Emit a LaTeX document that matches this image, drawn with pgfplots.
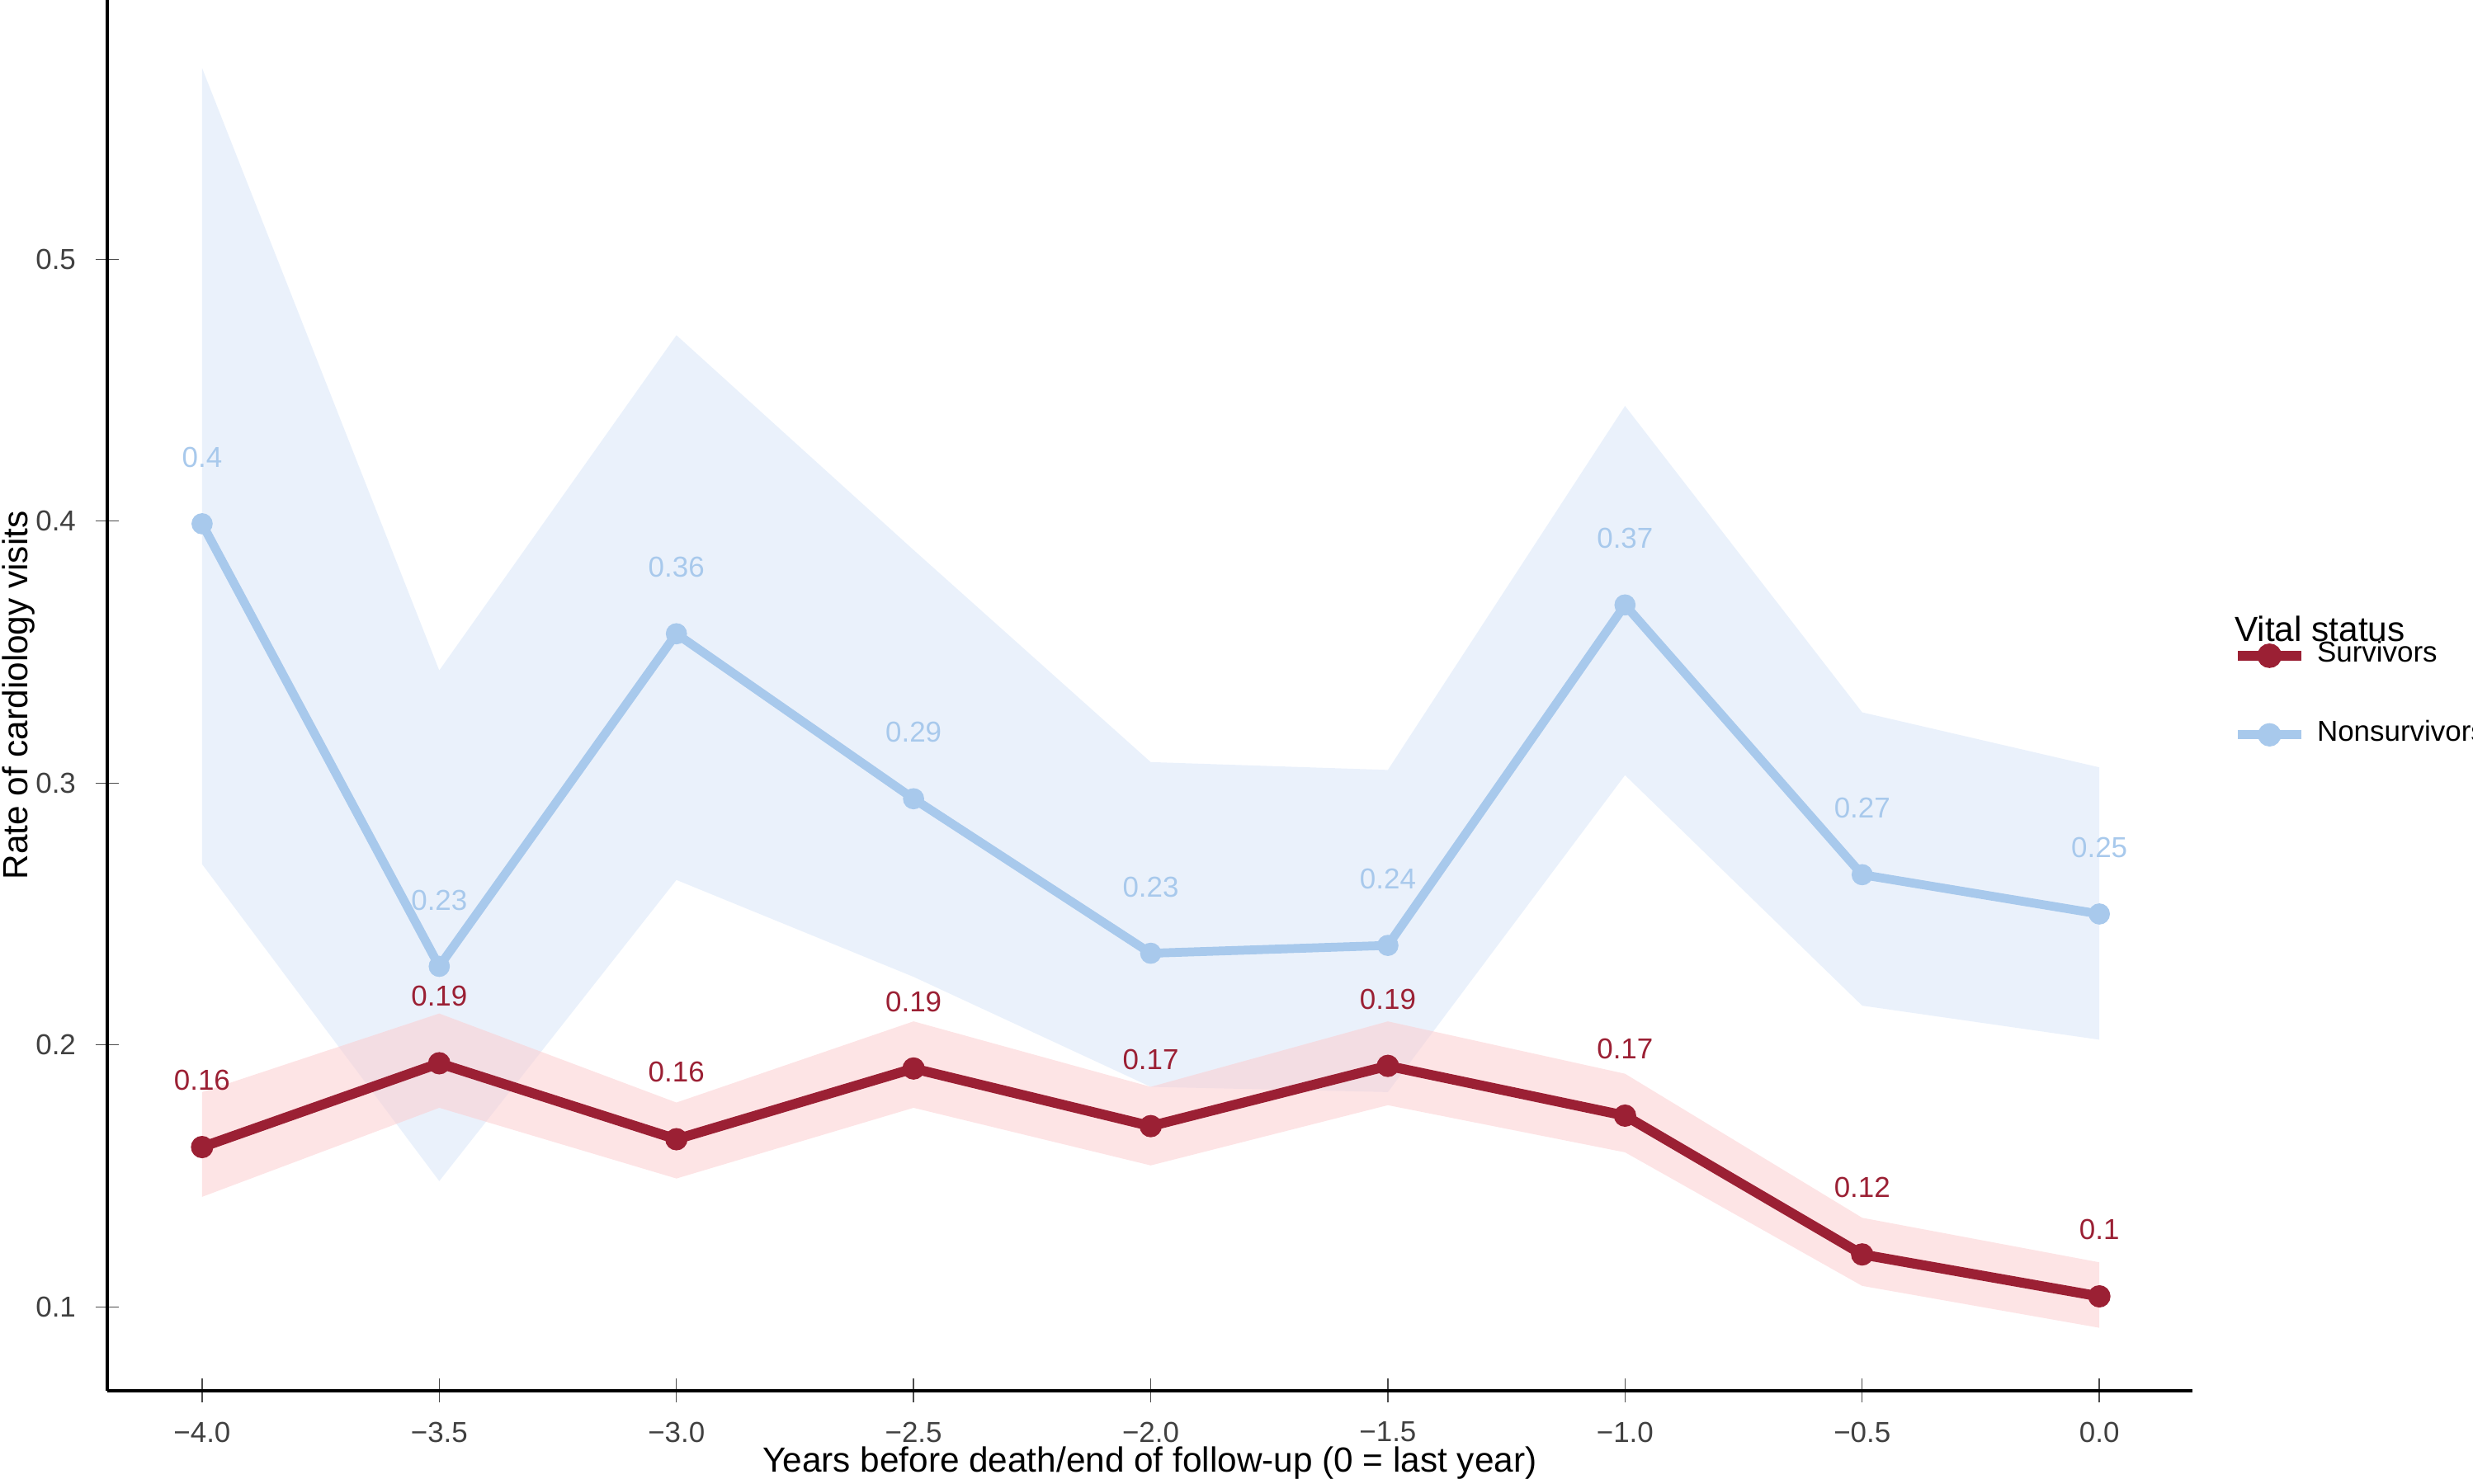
\documentclass[border=0pt]{standalone}
\usepackage{pgfplots}
\pgfplotsset{compat=1.18}
\usepackage{fontspec}
\setmainfont{Liberation Sans}
\definecolor{surv}{RGB}{155,32,52}
\definecolor{survf}{RGB}{252,205,208}
\definecolor{non}{RGB}{168,201,236}
\definecolor{nonf}{RGB}{214,228,248}
\begin{document}
\begin{tikzpicture}
\begin{axis}[at={(0,0)},anchor=south west,scale only axis,width=13.22cm,height=8.82cm,
 xmin=-4.2,xmax=0.196,ymin=0.068,ymax=0.599,
 axis lines=left, axis line style={line width=0.5pt,-},
 xtick={-4,-3.5,-3,-2.5,-2,-1.5,-1,-0.5,0},
 xticklabels={−4.0,−3.5,−3.0,−2.5,−2.0,−1.5,−1.0,−0.5,0.0},
 ytick={0.1,0.2,0.3,0.4,0.5},
 yticklabel style={/pgf/number format/.cd,fixed,precision=1},
 /pgf/number format/assume math mode=true,
 tick style={black!70}, tick label style={font=\fontsize{5.2}{6}\selectfont, text=black!75},
 legend style={at={(1.011,0.50)},anchor=west,draw=none,fill=none,font=\fontsize{5.2}{6}\selectfont,row sep=5pt},
 legend image code/.code={\draw[#1] (0mm,0mm) -- (4mm,0mm); \fill[#1] (2mm,0mm) circle (1.3pt);},
 legend cell align=left,
 clip=false,
 nodes near coords style={font=\fontsize{5.2}{6}\selectfont, yshift=6pt},
]
\addplot[draw=none,fill=nonf,fill opacity=0.5,forget plot] coordinates {
(-4,0.573)(-3.5,0.343)(-3,0.471)(-2.5,0.389)(-2,0.308)(-1.5,0.305)(-1,0.444)(-0.5,0.327)(0,0.306)
(0,0.202)(-0.5,0.215)(-1,0.303)(-1.5,0.182)(-2,0.184)(-2.5,0.226)(-3,0.263)(-3.5,0.148)(-4,0.269)} -- cycle;
\addplot[draw=none,fill=survf,fill opacity=0.55,forget plot] coordinates {
(-4,0.182)(-3.5,0.212)(-3,0.178)(-2.5,0.209)(-2,0.184)(-1.5,0.209)(-1,0.189)(-0.5,0.134)(0,0.117)
(0,0.092)(-0.5,0.108)(-1,0.159)(-1.5,0.177)(-2,0.154)(-2.5,0.176)(-3,0.149)(-3.5,0.176)(-4,0.142)} -- cycle;
\addplot[surv,line width=1.8pt,mark=*,mark size=1.1pt,nodes near coords,point meta=explicit symbolic,
 nodes near coords style={text=surv}] coordinates {
(-4,0.161)[0.16](-3.5,0.193)[0.19](-3,0.164)[0.16](-2.5,0.191)[0.19](-2,0.169)[0.17](-1.5,0.192)[0.19](-1,0.173)[0.17](-0.5,0.120)[0.12](0,0.104)[0.1]};
\addlegendentry{Survivors}
\addplot[non,line width=1.6pt,mark=*,mark size=1.1pt,nodes near coords,point meta=explicit symbolic,
 nodes near coords style={text=non}] coordinates {
(-4,0.399)[0.4](-3.5,0.230)[0.23](-3,0.357)[0.36](-2.5,0.294)[0.29](-2,0.235)[0.23](-1.5,0.238)[0.24](-1,0.368)[0.37](-0.5,0.265)[0.27](0,0.250)[0.25]};
\addlegendentry{Nonsurvivors}
\node[anchor=west,font=\fontsize{6.3}{7}\selectfont] at (axis description cs:1.011,0.548) {Vital status};
\end{axis}
\node[font=\fontsize{6.3}{7}\selectfont] at (6.61cm,-0.46cm) {Years before death/end of follow-up (0 = last year)};
\node[font=\fontsize{6.3}{7}\selectfont,rotate=90] at (-0.56cm,4.41cm) {Rate of cardiology visits};
\pgfresetboundingbox
\path (-0.68cm,-0.59cm) rectangle (15.0cm,8.82cm);
\end{tikzpicture}
\end{document}
